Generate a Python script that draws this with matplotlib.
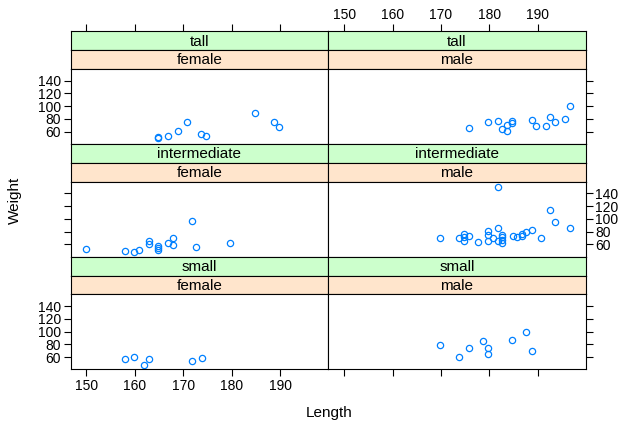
import matplotlib
matplotlib.use("Agg")
import matplotlib.pyplot as plt

plt.rcParams['font.family'] = ['Liberation Sans', 'DejaVu Sans']

# Length / Weight by height group and sex
tall_female_len = [164.8, 164.8, 166.8, 168.8, 170.8, 173.7, 174.7, 184.7, 188.7, 189.7]
tall_female_wt = [52.2, 50.6, 53.1, 60.5, 74.5, 56.9, 53.8, 89.6, 74.5, 67.2]
tall_male_len = [175.7, 179.7, 181.7, 182.7, 183.7, 183.7, 184.6, 184.7, 188.7, 189.6,
                 191.6, 192.6, 193.6, 195.6, 196.6]
tall_male_wt = [65.1, 74.5, 77.2, 64.1, 69.8, 61.6, 77.2, 73.0, 78.1, 69.4,
                69.4, 82.3, 74.5, 80.3, 99.9]
inter_female_len = [150.0, 158.0, 159.8, 160.9, 162.9, 162.9, 164.8, 164.8, 164.8, 166.8,
                    167.8, 167.8, 171.8, 172.7, 179.7]
inter_female_wt = [52.3, 49.8, 48.3, 51.4, 65.7, 60.0, 58.0, 55.0, 51.8, 62.1,
                   70.3, 59.0, 96.0, 56.5, 62.1]
inter_male_len = [169.8, 173.8, 174.7, 174.7, 174.7, 175.7, 177.7, 179.7, 179.7, 179.7,
                  180.8, 181.7, 181.7, 181.7, 182.7, 182.7, 182.7, 182.7, 184.8, 185.6,
                  186.7, 186.7, 187.6, 188.7, 190.7, 192.6, 193.6, 196.6]
inter_male_wt = [70.3, 70.3, 76.5, 70.8, 64.6, 72.3, 63.1, 81.1, 75.4, 65.2,
                 70.3, 149.8, 85.7, 65.2, 74.5, 70.8, 66.8, 62.1, 72.9, 71.8,
                 72.9, 76.5, 79.1, 82.2, 70.3, 113.4, 95.4, 85.7]
small_female_len = [157.9, 159.9, 161.9, 162.9, 171.8, 173.8]
small_female_wt = [56.4, 59.5, 47.2, 56.4, 53.3, 58.5]
small_male_len = [169.8, 173.8, 175.7, 178.7, 179.7, 179.7, 184.7, 187.6, 188.7]
small_male_wt = [78.6, 59.5, 74.4, 85.2, 74.4, 64.6, 87.4, 99.8, 69.3]

groups = ['tall', 'intermediate', 'small']
sexes = ['female', 'male']
data = {
    ('tall', 'female'): (tall_female_len, tall_female_wt),
    ('tall', 'male'): (tall_male_len, tall_male_wt),
    ('intermediate', 'female'): (inter_female_len, inter_female_wt),
    ('intermediate', 'male'): (inter_male_len, inter_male_wt),
    ('small', 'female'): (small_female_len, small_female_wt),
    ('small', 'male'): (small_male_len, small_male_wt),
}
xticks = [150, 160, 170, 180, 190]
yticks = [60, 80, 100, 120, 140]
xlim = (146.7, 199.9)
ylim = (40.6, 158.4)

W, H = 623, 422
fig = plt.figure(figsize=(W / 100, H / 100), dpi=100)

left, mid, right = 70.5, 328.3, 585.7
top = 31.3
strip_h = 18.8
panel_h = 75.1
row_h = 2 * strip_h + panel_h


def frac(x0, y0, w, h):
    return [x0 / W, 1 - (y0 + h) / H, w / W, h / H]


for r, g in enumerate(groups):
    y0 = top + r * row_h
    for c, s in enumerate(sexes):
        x0 = left if c == 0 else mid
        w = (mid - left) if c == 0 else (right - mid)
        # strips
        for k, (txt, col) in enumerate([(g, '#ccffcc'), (s, '#ffe5cc')]):
            sax = fig.add_axes(frac(x0, y0 + k * strip_h, w, strip_h))
            sax.set_facecolor(col)
            sax.set_xlim(*xlim)
            sax.set_yticks([])
            for sp in sax.spines.values():
                sp.set_linewidth(0.8)
            sax.text(0.5, 0.45, txt, ha='center', va='center', fontsize=11,
                     transform=sax.transAxes)
            if r == 0 and k == 0:
                # outer top axis sits above the strips
                sax.set_xticks(xticks)
                sax.xaxis.set_ticks_position('top')
                sax.tick_params(axis='x', direction='out', length=5, width=0.8,
                                labelsize=10, pad=2, labeltop=(c == 1),
                                bottom=False, labelbottom=False)
            else:
                sax.set_xticks([])
        ax = fig.add_axes(frac(x0, y0 + 2 * strip_h, w, panel_h))
        xs, ys = data[(g, s)]
        ax.plot(xs, ys, 'o', ms=4.5, mfc='none', mec='#0080ff', mew=0.9)
        ax.set_xlim(*xlim)
        ax.set_ylim(*ylim)
        for sp in ax.spines.values():
            sp.set_linewidth(0.8)
        ax.set_xticks(xticks)
        ax.set_yticks(yticks)
        ax.tick_params(direction='out', length=5, width=0.8, labelsize=10,
                       colors='black', pad=2)
        ax.tick_params(top=False, labeltop=False,
                       bottom=(r == 2), labelbottom=(r == 2 and c == 0),
                       left=(c == 0), right=(c == 1),
                       labelleft=(c == 0 and r != 1), labelright=(c == 1 and r == 1))

fig.text(329 / W, 1 - 413 / H, 'Length', ha='center', va='center', fontsize=11)
fig.text(15 / W, 1 - 200 / H, 'Weight', ha='center', va='center', fontsize=11,
         rotation=90)

fig.savefig('out.png', dpi=100)
